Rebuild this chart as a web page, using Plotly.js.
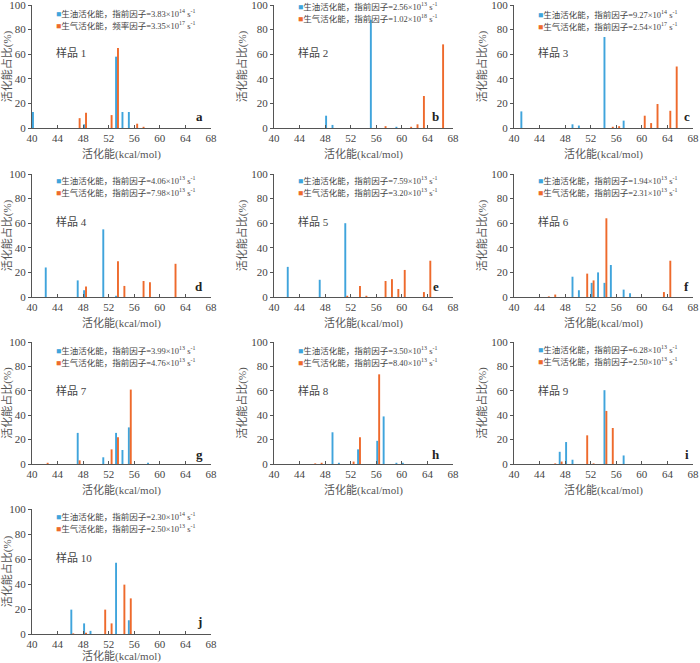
<!DOCTYPE html>
<html><head><meta charset="utf-8">
<script src="https://cdn.plot.ly/plotly-3.0.1.min.js"></script>
<style>body{margin:0;background:#fff}#c{width:700px;height:663px}</style>
</head><body><div id="c"></div>
<script>
// Activation energies (kcal/mol) and percentage for each sample
const oilE = [
  [40,48,53,54,55],
  [48,49,55,59],
  [41,49,50,54,57],
  [42,47,48,51,53],
  [42,47,51],
  [49,50,52,53,54,55,57,58],
  [47,51,53,54,55,58],
  [49,50,53,56,57,59,60],
  [47,48,49,54,57],
  [46,48,49,53,55]
];
const oilP = [
  [13,3,58,13,13],
  [10,2.5,88,1],
  [13.5,3,2,74,6],
  [24,13.5,5.5,55,1],
  [24.5,14,60],
  [16.5,5.5,11.5,20,11.5,26,6,3],
  [25.5,5.5,25.5,11.5,30,1],
  [26,1,12,19,39,1,1],
  [10,18,3.5,60.5,7],
  [19.5,8.5,2.5,57,11]
];
const gasE = [
  [47,48,52,53,56,57],
  [57,61,62,63,66],
  [55,56,60,61,62,64,65],
  [48,53,54,57,58,62],
  [51,53,54,57,58,59,60,63,64],
  [45,46,51,52,54,63,64],
  [42,47,52,53,55],
  [46,47,52,53,56],
  [46,47,51,52,54,55],
  [46,48,51,52,54,55]
];
const gasP = [
  [8,12.5,10.5,65,3.5,1],
  [1.5,1,3,26,68],
  [1,1.5,10,4,19.5,14,50],
  [8.5,29,9,13,12,27],
  [1,9,1,13,14.5,6.5,22,4,29.5],
  [0.5,2,19,13.5,64,4,29.5],
  [1,3,12,22,61],
  [0.5,1,2,22,73.5],
  [0.5,2,23.5,0.5,43.5,29.5],
  [0.5,1,19.5,8.5,39.5,28.5]
];
const sampleNames = ['样品 1','样品 2','样品 3','样品 4','样品 5','样品 6','样品 7','样品 8','样品 9','样品 10'];
const panelLetters = ['a','b','c','d','e','f','g','h','i','j'];
const oilFactorName = ['指前因子','指前因子','指前因子','指前因子','指前因子','指前因子','指前因子','指前因子','指前因子','指前因子'];
const gasFactorName = ['频率因子','指前因子','指前因子','指前因子','指前因子','指前因子','指前因子','指前因子','指前因子','指前因子'];
const oilA = ['3.83','2.56','9.27','4.06','7.59','1.94','3.99','3.50','6.28','2.30'];
const oilExp = ['14','13','14','13','13','13','13','13','13','14'];
const gasA = ['3.35','1.02','2.54','7.98','3.20','2.31','4.76','8.40','2.50','2.50'];
const gasExp = ['17','18','17','13','13','13','13','13','13','13'];
const xTicks = [40,44,48,52,56,60,64,68];
const yTicks = [0,20,40,60,80,100];

const BLUE = '#3FA4DC', ORANGE = '#EE6A2C';
const FONT = 'Liberation Serif, "Noto Sans CJK SC", serif';
const W = 700, H = 663;
const colPx = [[32,211],[274,453],[514,693]];
const rowPx = [[5,128],[174,297],[342,464],[509,634]];
const legendTop = [[9,2,10],[7,7,7],[8,8,7],[7]];
const letterX = [0.933,0.905,0.966];

const data = [], annotations = [];
const layout = {
  width: W, height: H, margin: {l:0,r:0,t:0,b:0},
  paper_bgcolor: '#fff', plot_bgcolor: '#fff',
  showlegend: false, barmode: 'overlay',
  font: {family: FONT, color: '#444', size: 11}
};

for (let i = 0; i < 10; i++) {
  const r = Math.floor(i/3), c = i%3;
  const n = i === 0 ? '' : String(i+1);
  const xa = 'x'+n, ya = 'y'+n;
  data.push({type:'bar', x: oilE[i], y: oilP[i], xaxis: xa, yaxis: ya,
    width: 0.3, offset: 0, marker: {color: BLUE, line:{width:0}}, hoverinfo:'x+y'});
  data.push({type:'bar', x: gasE[i], y: gasP[i], xaxis: xa, yaxis: ya,
    width: 0.3, offset: 0.3, marker: {color: ORANGE, line:{width:0}}, hoverinfo:'x+y'});
  const [x0,x1] = colPx[c], [y0,y1] = rowPx[r];
  layout['xaxis'+n] = {
    domain: [x0/W, x1/W], anchor: ya, range: [40,68],
    tickvals: xTicks, ticktext: xTicks.map(String), ticklabeloverflow: 'allow',
    ticks: 'inside', ticklen: 3, tickcolor: '#555', tickwidth: 1,
    showline: true, linecolor: '#555', linewidth: 1, showgrid: false, zeroline: false,
    tickfont: {family: FONT, size: 11, color: '#444'},
    title: {text: '活化能(kcal/mol)', font: {family: FONT, size: 11, color: '#555'}, standoff: 7}
  };
  layout['yaxis'+n] = {
    domain: [1-y1/H, 1-y0/H], anchor: xa, range: [0,100],
    tickvals: yTicks, ticktext: yTicks.map(String), ticklabeloverflow: 'allow',
    ticks: 'outside', ticklen: 3, tickcolor: '#555', tickwidth: 1,
    showline: true, linecolor: '#555', linewidth: 1, showgrid: false, zeroline: false,
    tickfont: {family: FONT, size: 11, color: '#444'},
    title: {text: '活化能占比(%)', font: {family: FONT, size: 11, color: '#555'}, standoff: 2}
  };
  const h = y1 - y0, w = x1 - x0;
  const lt = legendTop[r][c];
  annotations.push({xref: xa+' domain', yref: ya+' domain', x: 22/w, y: 1-lt/h,
    xanchor:'left', yanchor:'middle', showarrow:false,
    font:{family: FONT, size: 8.5, color:'#444'},
    text: '<span style="color:'+BLUE+'">■</span>生油活化能，'+oilFactorName[i]+'='+oilA[i]+'×10<sup>'+oilExp[i]+'</sup> s<sup>-1</sup>'});
  annotations.push({xref: xa+' domain', yref: ya+' domain', x: 22/w, y: 1-(lt+12)/h,
    xanchor:'left', yanchor:'middle', showarrow:false,
    font:{family: FONT, size: 8.5, color:'#444'},
    text: '<span style="color:'+ORANGE+'">■</span>生气活化能，'+gasFactorName[i]+'='+gasA[i]+'×10<sup>'+gasExp[i]+'</sup> s<sup>-1</sup>'});
  annotations.push({xref: xa+' domain', yref: ya+' domain', x: 22/w, y: 1-48/h,
    xanchor:'left', yanchor:'middle', showarrow:false,
    font:{family: FONT, size: 11, color:'#444'}, text: sampleNames[i]});
  annotations.push({xref: xa+' domain', yref: ya+' domain', x: letterX[c], y: 1-112/h,
    xanchor:'center', yanchor:'middle', showarrow:false,
    font:{family: FONT, size: 13, color:'#222'}, text: '<b>'+panelLetters[i]+'</b>'});
}
layout.annotations = annotations;
Plotly.newPlot('c', data, layout, {staticPlot: true, displayModeBar: false});
</script></body></html>
